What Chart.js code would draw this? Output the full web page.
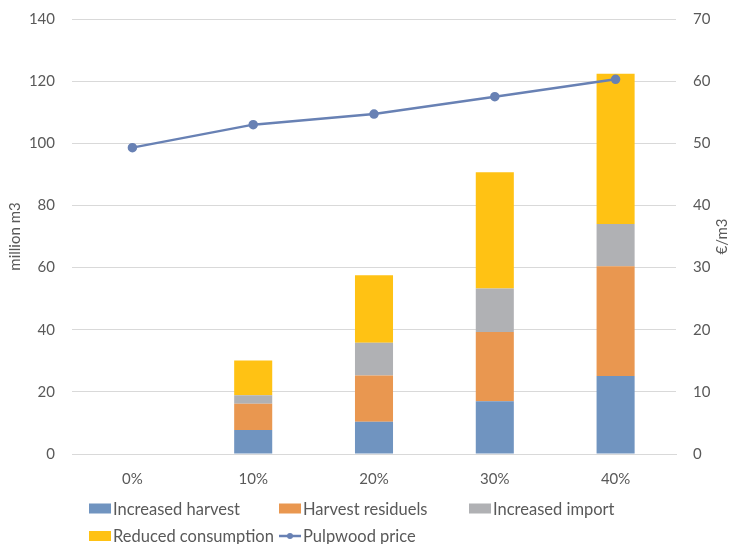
<!DOCTYPE html>
<html>
<head>
<meta charset="utf-8">
<script src="https://cdn.jsdelivr.net/npm/chart.js@4"></script>
<style>
  body { margin: 0; background: #fff; }
</style>
</head>
<body>
<canvas id="chart" width="733" height="544"></canvas>
<script>
// data
const categories = ['0%', '10%', '20%', '30%', '40%'];
const increasedHarvest = [0, 7.7, 10.4, 17.0, 25.1];
const harvestResiduels = [0, 8.5, 14.9, 22.3, 35.3];
const increasedImport = [0, 2.7, 10.5, 14.0, 13.6];
const reducedConsumption = [0, 11.2, 21.7, 37.4, 48.4];
const pulpwoodPrice = [49.3, 53.0, 54.7, 57.5, 60.3];
const leftTicks = [0, 20, 40, 60, 80, 100, 120, 140];
const rightTicks = [0, 10, 20, 30, 40, 50, 60, 70];

const FONT = "Lato, 'Liberation Sans', sans-serif";
const GREY = '#595959';

function bar(label, data, color) {
  return {
    type: 'bar', label: label, data: data, backgroundColor: color,
    stack: 's', yAxisID: 'y', order: 1,
    barPercentage: 0.315, categoryPercentage: 1
  };
}

// legend drawn like the excel one (fixed columns, wraps after 3)
const excelLegend = {
  id: 'excelLegend',
  afterDraw(chart) {
    const ctx = chart.ctx;
    const rows = [[0, 1, 2], [3, 4]];
    const rowY = [508.5, 536];
    ctx.save();
    ctx.font = '16.5px ' + FONT;
    ctx.textBaseline = 'middle';
    rows.forEach((row, r) => {
      let x = 89;
      const y = rowY[r];
      row.forEach(i => {
        const ds = chart.data.datasets[i];
        if (ds.type === 'line') {
          ctx.strokeStyle = ds.borderColor;
          ctx.lineWidth = 2.5;
          ctx.beginPath();
          ctx.moveTo(x, y);
          ctx.lineTo(x + 22, y);
          ctx.stroke();
          ctx.fillStyle = ds.borderColor;
          ctx.beginPath();
          ctx.arc(x + 11, y, 3, 0, Math.PI * 2);
          ctx.fill();
        } else {
          ctx.fillStyle = ds.backgroundColor;
          ctx.fillRect(x, y - 5, 22, 10);
        }
        ctx.fillStyle = GREY;
        ctx.fillText(ds.label, x + 24, y + 1);
        const end = x + 24 + ctx.measureText(ds.label).width;
        x = Math.max(x + 190, end + 3);
      });
    });
    // right axis title, reading bottom to top
    const a = chart.chartArea;
    ctx.font = '15px ' + FONT;
    ctx.translate(722, (a.top + a.bottom) / 2);
    ctx.rotate(-Math.PI / 2);
    ctx.textAlign = 'center';
    ctx.fillText('€/m3', 0, 0);
    ctx.restore();
  }
};

new Chart(document.getElementById('chart'), {
  data: {
    labels: categories,
    datasets: [
      bar('Increased harvest', increasedHarvest, '#7094C0'),
      bar('Harvest residuels', harvestResiduels, '#E99750'),
      bar('Increased import', increasedImport, '#B0B1B4'),
      bar('Reduced consumption', reducedConsumption, '#FFC214'),
      {
        type: 'line', label: 'Pulpwood price', data: pulpwoodPrice,
        yAxisID: 'y1', order: 0,
        borderColor: '#6881B4', backgroundColor: '#6881B4',
        borderWidth: 2.5, pointRadius: 3.5, pointHoverRadius: 3.5,
        pointBackgroundColor: '#6881B4', tension: 0
      }
    ]
  },
  options: {
    responsive: false,
    animation: false,
    layout: { padding: { top: 19, bottom: 50, left: 0, right: 0 } },
    plugins: {
      legend: { display: false },
      tooltip: { enabled: false }
    },
    scales: {
      x: {
        stacked: true,
        grid: { display: false },
        border: { color: '#d9d9d9', width: 1 },
        ticks: { color: GREY, font: { family: FONT, size: 15 }, padding: 8 },
        afterFit(s) { s.height = 40; }
      },
      y: {
        position: 'left', stacked: true, min: 0, max: 140,
        afterBuildTicks(s) { s.ticks = leftTicks.map(v => ({ value: v })); },
        grid: { color: '#d9d9d9', drawTicks: true, tickLength: 14, tickColor: 'rgba(0,0,0,0)' },
        border: { display: false },
        ticks: { color: GREY, font: { family: FONT, size: 15 }, padding: 3 },
        title: { display: true, text: 'million m3', color: GREY, font: { family: FONT, size: 15 }, padding: { top: 6, bottom: 0 } },
        afterFit(s) { s.width = 72; }
      },
      y1: {
        position: 'right', min: 0, max: 70,
        afterBuildTicks(s) { s.ticks = rightTicks.map(v => ({ value: v })); },
        grid: { drawOnChartArea: false, drawTicks: true, tickLength: 14, tickColor: 'rgba(0,0,0,0)' },
        border: { display: false },
        ticks: { color: GREY, font: { family: FONT, size: 15 }, padding: 3 },
        afterFit(s) { s.width = 57; }
      }
    }
  },
  plugins: [excelLegend]
});
</script>
</body>
</html>
